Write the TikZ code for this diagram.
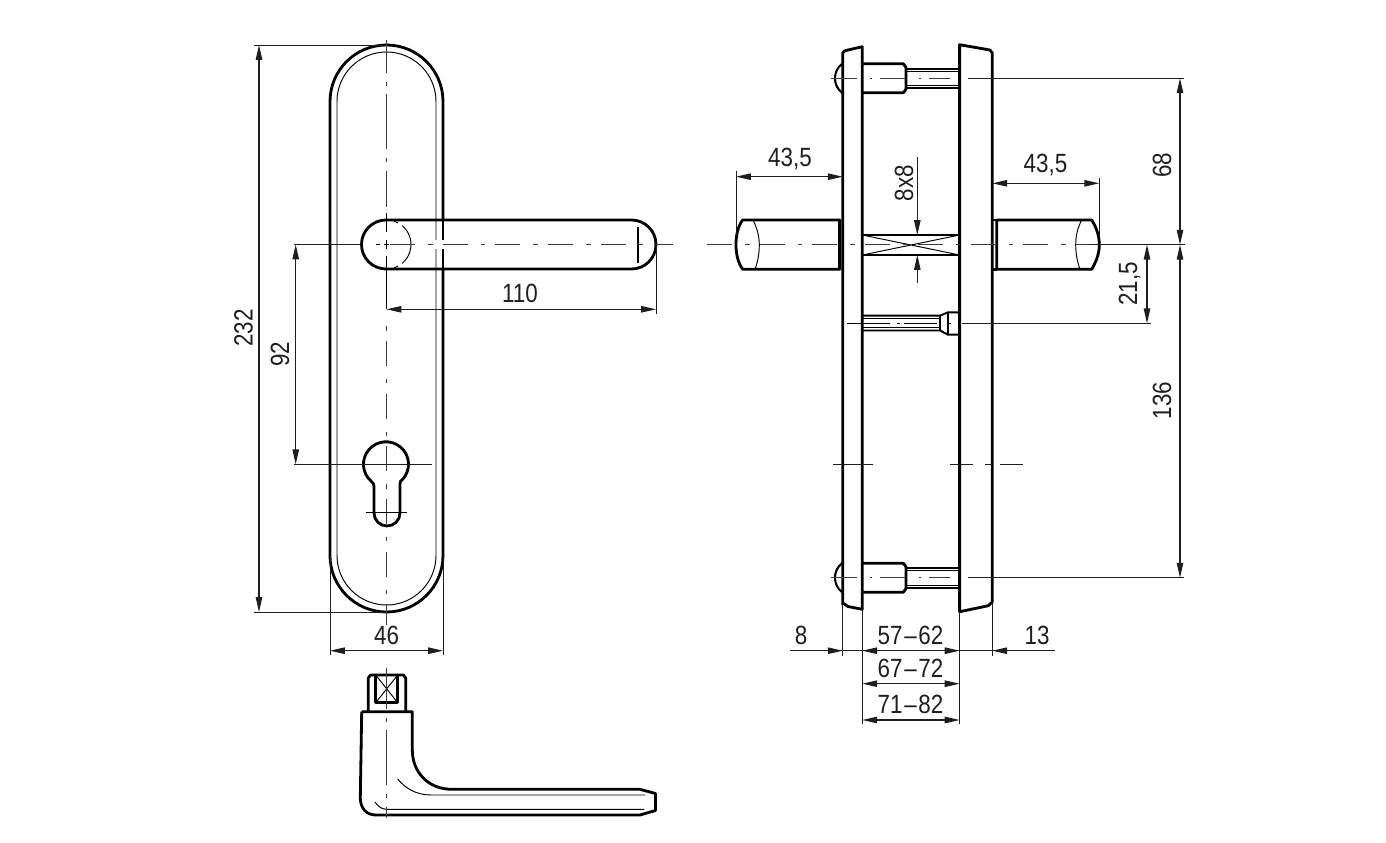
\documentclass[tikz,border=0pt]{standalone}
\usepackage{fontspec}
\setmainfont{Liberation Sans}[FakeStretch=0.85]
\usepackage{tikz}
\usetikzlibrary{arrows.meta,positioning}
\definecolor{dimgrey}{RGB}{30,30,30}
\definecolor{axisgrey}{RGB}{60,60,60}
\tikzstyle{outline} = [line width=1.6pt, black, line join=round]
\tikzstyle{fineline} = [line width=0.55pt, black]
\tikzstyle{axisline} = [line width=0.6pt, axisgrey, dash pattern=on 14.2pt off 7.4pt on 2.6pt off 5.8pt]
\tikzstyle{axislong} = [line width=0.6pt, axisgrey, dash pattern=on 31.2pt off 5pt on 2.3pt off 5pt, dash phase=12.5pt]
\tikzstyle{boltaxis} = [line width=0.6pt, axisgrey, dash pattern=on 14.7pt off 7.4pt on 1.2pt off 4.5pt]
\tikzstyle{extline} = [line width=0.55pt, dimgrey]
\tikzstyle{dimline} = [line width=0.6pt, dimgrey, {Triangle[length=8.5pt,width=3.7pt]}-{Triangle[length=8.5pt,width=3.7pt]}]
\tikzstyle{dimleft} = [line width=0.6pt, dimgrey, -{Triangle[length=8.5pt,width=3.7pt]}]
\tikzstyle{dimtext} = [inner sep=0pt, font=\fontsize{15}{16}\selectfont, text=dimgrey]
\begin{document}
\begin{tikzpicture}[x=0.02cm,y=-0.02cm]
\useasboundingbox (0,0) rectangle (1386,842);

% Front view, plate
\draw[outline] (330,212) -- (330,101.5) arc[start angle=180,end angle=360,radius=56.5] -- (443,220);
\draw[outline] (443,269) -- (443,555.5) arc[start angle=0,end angle=180,radius=56.5] -- (330,212);
\draw[fineline] (337,555.5) -- (337,101.5) arc[start angle=180,end angle=360,radius=49.5] -- (436,240);
\draw[fineline] (436,249) -- (436,555.5) arc[start angle=0,end angle=180,radius=49.5];
\draw[line width=0.9pt] (443,209) -- (443,240) (443,249) -- (443,269);

% Front view, handle
\draw[outline] (387,220) -- (631.5,220) arc[start angle=270,end angle=450,radius=24.5] -- (386,269) arc[start angle=90,end angle=270,radius=24.5] -- cycle;
\draw[outline] (638,227) -- (638,263);
\draw[fineline] (386.5,244.5) ++(-72:24.5) arc[start angle=-72,end angle=-62,radius=24.5];
\draw[fineline] (386.5,244.5) ++(-50:24.5) arc[start angle=-50,end angle=50,radius=24.5];
\draw[fineline] (386.5,244.5) ++(62:24.5) arc[start angle=62,end angle=72,radius=24.5];

% Front view, key hole
\draw[outline] (374,513) -- (374,488) .. controls (374,484) and (373,483) .. (371.5,481.5) arc[start angle=130,end angle=410,radius=22.5] .. controls (400,483) and (400,484) .. (400,488) -- (400,513) arc[start angle=0,end angle=180,radius=13];

% Front view, axes
\draw[axislong] (386.5,40) -- (386.5,207);
\draw[fineline] (386.5,213) -- (386.5,232) (386.5,240) -- (386.5,249) (386.5,256) -- (386.5,309);
\draw[axisline, dash phase=17pt] (386.5,318) -- (386.5,625);
\draw[axisline] (390,244.5) -- (673,244.5);
\draw[fineline] (376,244.5) -- (380,244.5) (384,244.5) -- (389,244.5);
\draw[fineline] (365.5,512) -- (406.5,512);

% Front view, dimensions
\draw[extline] (254,45) -- (386,45);
\draw[extline] (254,612) -- (386,612);
\draw[extline] (294,244.5) -- (361,244.5);
\draw[extline] (294,464.3) -- (432,464.3);
\draw[extline] (656,246) -- (656,314);
\draw[extline] (330,556) -- (330,655);
\draw[extline] (443,556) -- (443,655);
\draw[dimline] (259,45) -- (259,612);
\draw[dimline] (295.7,244.5) -- (295.7,464.3);
\draw[dimline] (386.5,309.3) -- (656,309.3);
\draw[dimline] (330,650.7) -- (443,650.7);
\node[dimtext, rotate=90] (lblheight) at (243.5,328) {232};
\node[dimtext, rotate=90] (lblcylinder) at (280,354) {92};
\node[dimtext] (lbllength) at (520,293.5) {110};
\node[dimtext] (lblwidth) at (386.5,635) {46};

% Lever from above, square pin
\draw[outline] (368.3,711.7) -- (368.3,678) -- (370.5,675) -- (403.5,675) -- (405.7,678) -- (405.7,711.7);
\draw[outline] (375.7,675) rectangle (397.7,702.7);
\draw[fineline] (375.7,675) -- (397.7,702.7) (397.7,675) -- (375.7,702.7);

% Lever from above, body
\draw[outline] (361.7,711.7) -- (412.3,711.7) -- (412.3,750) .. controls (412.3,772) and (428,789.3) .. (452,789.3) -- (640,789.3) -- (655.5,793.5) -- (655.5,810.5) -- (640,815) -- (376,815) .. controls (366,815) and (360.5,808) .. (360.3,798) -- (361.7,711.7);
\draw[fineline] (397.7,779) .. controls (405,788) and (416,795) .. (431,795) -- (645,795);
\draw[fineline] (375,802) .. controls (378,806) and (381,809.3) .. (387,809.3) -- (644.3,809.3);
\draw[axislong, dash phase=8pt] (386.5,668) -- (386.5,818);

% Side view, plates
\draw[outline] (842.7,605) -- (842.7,53) -- (845,50.7) -- (862.3,46.7) -- (862.3,609.3) -- (848,606.5) -- (842.7,603);
\draw[outline] (959.6,611.7) -- (959.6,44.7) -- (990,50) -- (992.3,53) -- (992.3,602) -- (988.3,605.7) -- cycle;

% Side view, bolts
\foreach \boltY in {78.3,577.7}{
  \draw[outline, line width=1.2pt] (842.7,\boltY-15) .. controls (837,\boltY-11) and (835,\boltY-5) .. (835,\boltY) .. controls (835,\boltY+5) and (837,\boltY+11) .. (842.7,\boltY+15);
  \draw[outline] (862.3,\boltY-14.5) -- (903.3,\boltY-14.5) -- (906,\boltY-11) -- (906,\boltY+11) -- (903.3,\boltY+14.5) -- (862.3,\boltY+14.5);
  \draw[outline, line width=1.1pt] (906,\boltY-9.5) -- (959.6,\boltY-9.5) (906,\boltY+10) -- (959.6,\boltY+10);
  \draw[fineline] (906,\boltY-7) -- (959.6,\boltY-7) (906,\boltY+7.5) -- (959.6,\boltY+7.5);
  \draw[boltaxis] (831,\boltY) -- (950,\boltY);
}

% Side view, square spindle
\draw[outline] (862.3,235) -- (959.6,235) (862.3,255) -- (959.6,255);
\draw[fineline] (862.3,235) -- (959.6,255) (862.3,255) -- (959.6,235);

% Side view, middle screw
\draw[outline, line width=1.1pt] (862.3,315.7) -- (940,315.7) -- (948,312.3) -- (959.6,312.3);
\draw[outline, line width=1.1pt] (862.3,330.5) -- (940,330.5) -- (948,334.7) -- (959.6,334.7);
\draw[outline, line width=1.1pt] (940,315.7) -- (940,330.5) (948,312.3) -- (948,334.7);
\draw[fineline] (862.3,318.3) -- (940,318.3) (862.3,327.7) -- (940,327.7);
\draw[fineline] (847,323.3) -- (890,323.3) (897,323.3) -- (900,323.3) (904,323.3) -- (937,323.3) (949,323.3) -- (951,323.3);

% Side view, left lever
\draw[outline] (840,220) -- (742.7,220) .. controls (738,226) and (736,235) .. (736,244.7) .. controls (736,254) and (738,263) .. (742.7,269.3) -- (840,269.3) -- cycle;
\draw[fineline] (753,220) .. controls (757,228) and (759.3,236) .. (759.3,244.7) .. controls (759.3,253) and (758,261) .. (755,269.3);
\draw[fineline] (838,220) -- (838,269.3);

% Side view, right lever
\draw[outline] (996.7,220) -- (1091.7,220) .. controls (1096,227) and (1099.3,235) .. (1099.3,244.7) .. controls (1099.3,254) and (1096,262) .. (1091.7,269.3) -- (996.7,269.3) -- cycle;
\draw[outline] (992.3,220) -- (996.7,220) (992.3,269.3) -- (996.7,269.3);
\draw[fineline] (1081.7,220) .. controls (1077.5,228) and (1075.7,236) .. (1075.7,244.7) .. controls (1075.7,253) and (1077,261) .. (1080,269.3);

% Side view, axes
\draw[axisline] (707,244.7) -- (1089,244.7);
\draw[extline] (1089,244.7) -- (1185,244.7);
\draw[extline] (968,78.3) -- (1184,78.3);
\draw[extline] (968,577.7) -- (1184,577.7);
\draw[extline] (962,323.3) -- (1151,323.3);
\draw[extline] (833,464.3) -- (873,464.3);
\draw[extline] (950,464.3) -- (973,464.3);
\draw[extline] (985,464.3) -- (992,464.3);
\draw[extline] (1000,464.3) -- (1023,464.3);

% Side view, dimensions
\draw[extline] (736,171) -- (736,236);
\draw[extline] (1099.3,178) -- (1099.3,236);
\draw[extline] (917.3,157) -- (917.3,220);
\draw[extline] (917.3,270) -- (917.3,283);
\draw[extline] (842.7,603) -- (842.7,656);
\draw[extline] (992.3,602) -- (992.3,656);
\draw[extline] (862.3,609) -- (862.3,724);
\draw[extline] (959.6,611) -- (959.6,724);
\draw[extline] (790,650.7) -- (1055,650.7);
\draw[dimline] (736,176.7) -- (842.7,176.7);
\draw[dimline] (992.3,183.3) -- (1099.3,183.3);
\draw[dimline] (1180,78.3) -- (1180,244.7);
\draw[dimline] (1180,244.7) -- (1180,577.7);
\draw[dimline] (1147,244.7) -- (1147,323.3);
\draw[dimleft] (917.3,205) -- (917.3,235);
\draw[dimleft] (917.3,283) -- (917.3,255);
\draw[dimleft] (790,650.7) -- (842.7,650.7);
\draw[dimleft] (1055,650.7) -- (992.3,650.7);
\draw[dimline] (862.3,650.7) -- (959.6,650.7);
\draw[dimline] (862.3,683.7) -- (959.6,683.7);
\draw[dimline] (862.3,720) -- (959.6,720);
\node[dimtext] (lblleft) at (790,158.5) {43,5};
\node[dimtext] (lblright) at (1045.5,165) {43,5};
\node[dimtext, rotate=90] (lblsquare) at (904,183) {8x8};
\node[dimtext, rotate=90] (lbltop) at (1162,165) {68};
\node[dimtext, rotate=90] (lblbottom) at (1162,400.5) {136};
\node[dimtext, rotate=90] (lblmiddle) at (1129.5,284) {21,5};
\node[dimtext] (lblplateleft) at (801,635) {8};
\node[dimtext] (lblplateright) at (1037,635) {13};
\node[dimtext] (lbldoorone) at (910.5,635) {57{\kern1pt}--{\kern1pt}62};
\node[dimtext] (lbldoortwo) at (910.5,668) {67{\kern1pt}--{\kern1pt}72};
\node[dimtext] (lbldoorthree) at (910.5,704) {71{\kern1pt}--{\kern1pt}82};
\end{tikzpicture}
\end{document}
